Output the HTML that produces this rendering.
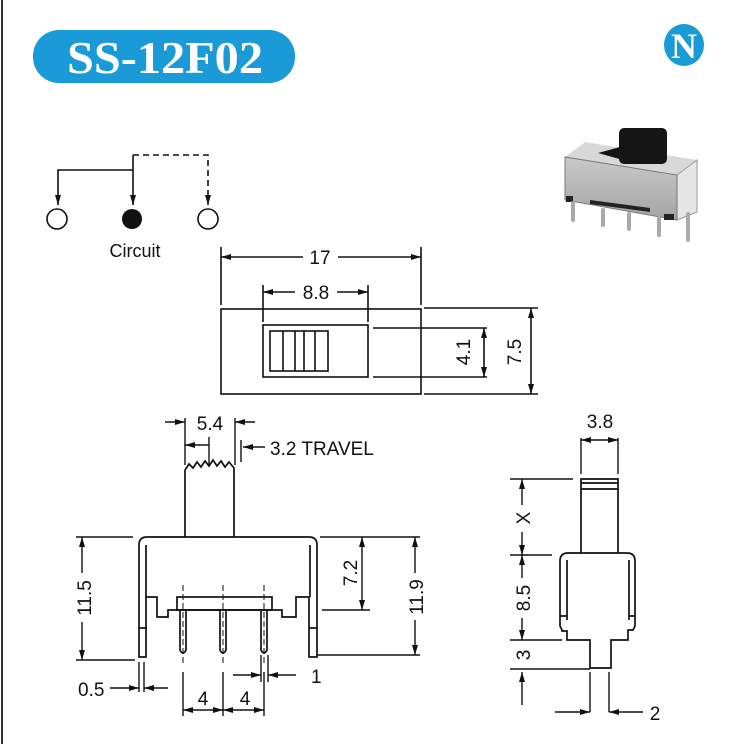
<!DOCTYPE html>
<html><head><meta charset="utf-8"><style>
html,body{margin:0;padding:0;background:#fff;}
svg{display:block;}
text{font-family:"Liberation Sans",Arial,sans-serif;fill:#111;}
</style></head><body>
<svg width="735" height="744" viewBox="0 0 735 744" xmlns="http://www.w3.org/2000/svg">
<defs>
<marker id="a" viewBox="0 0 10 6" refX="10" refY="3" markerWidth="10" markerHeight="6" orient="auto-start-reverse" markerUnits="userSpaceOnUse"><path d="M0,0 L10,3 L0,6 z" fill="#111"/></marker>
<linearGradient id="g1" x1="0" y1="0" x2="0" y2="1"><stop offset="0" stop-color="#c9c9c9"/><stop offset="1" stop-color="#a5a5a5"/></linearGradient>
</defs>
<line x1="2" y1="0" x2="2" y2="744" stroke="#333" stroke-width="2"/>
<rect x="33" y="30" width="262" height="53" rx="26" fill="#1a9ad6"/>
<text x="165" y="73" text-anchor="middle" textLength="196" lengthAdjust="spacingAndGlyphs" style="font-family:'Liberation Serif',serif;font-weight:bold;font-size:46px;fill:#fff">SS-12F02</text>
<ellipse cx="684" cy="45" rx="20" ry="21" fill="#1a9ad6"/>
<text x="684" y="58" text-anchor="middle" style="font-family:'Liberation Serif',serif;font-weight:bold;font-size:36px;fill:#fff">N</text>
<g stroke="#111" stroke-width="1.6" fill="none">
<path d="M133,155 H208 V205" stroke-dasharray="6,4" marker-end="url(#a)"/>
<path d="M58,205 V170 H133" marker-start="url(#a)"/>
<path d="M133,155 V205" marker-end="url(#a)"/>
<circle cx="57" cy="219" r="10"/><circle cx="208" cy="219" r="10"/>
</g>
<circle cx="132" cy="219" r="10" fill="#111"/>
<text x="135" y="257" text-anchor="middle" font-size="18">Circuit</text>
<!-- photo -->
<polygon points="565,157 585,142 697,160 677,175" fill="#d8d8d8"/>
<polygon points="677,175 697,160 697,212 677,220" fill="#e6e6e6" stroke="#999"/>
<polygon points="565,157 677,175 677,220 565,200" fill="url(#g1)" stroke="#777"/>
<polygon points="598,153 620,147 630,162" fill="#151515"/>
<rect x="619" y="128" width="48" height="36" rx="5" fill="#151515"/>
<polygon points="590,200 650,208 650,212 590,204" fill="#222"/>
<rect x="566" y="196" width="7" height="6" fill="#222"/><rect x="664" y="214" width="10" height="6" fill="#222"/>
<g stroke="#aaa" stroke-width="4" stroke-linecap="round"><line x1="573" y1="203" x2="573" y2="220"/><line x1="603" y1="210" x2="603" y2="225"/><line x1="629" y1="214" x2="629" y2="229"/><line x1="659" y1="218" x2="659" y2="235"/><line x1="688" y1="214" x2="688" y2="240"/></g>
<!-- top view -->
<g stroke="#111" stroke-width="1.6" fill="none">
<rect x="221" y="309" width="200" height="85"/>
<rect x="263" y="325" width="105" height="52"/>
<rect x="270" y="331" width="58" height="40"/>
<path d="M283,331V371 M295,331V371 M304,331V371 M315,331V371"/>
<path d="M221,247V305 M421,247V305 M263,285V322 M368,285V322"/>
<path d="M221,257H303" marker-start="url(#a)"/><path d="M338,257H421" marker-end="url(#a)"/>
<path d="M263,292H295" marker-start="url(#a)"/><path d="M337,292H368" marker-end="url(#a)"/>
<path d="M373,328H487 M373,377H487 M424,308H538 M424,394H538"/>
<path d="M484,328V377" marker-start="url(#a)" marker-end="url(#a)"/>
<path d="M531,308V394" marker-start="url(#a)" marker-end="url(#a)"/>
</g>
<g font-size="19">
<text x="320" y="264" text-anchor="middle">17</text>
<text x="316" y="299" text-anchor="middle">8.8</text>
<text transform="translate(470,352) rotate(-90)" text-anchor="middle">4.1</text>
<text transform="translate(521,352) rotate(-90)" text-anchor="middle">7.5</text>
</g>
<!-- front view -->
<g stroke="#111" stroke-width="1.7" fill="none">
<path d="M139,657 V545 Q139,537 147,537 H309 Q317,537 317,545 V657 H309 V597 H296 V617 H282 V610 H168 V617 H157 V597 H146 V657 Z"/>
<path d="M146,597 V545 M310,597 V545 M139,628H147 M309,628H317"/>
<rect x="177" y="597" width="95" height="13"/>
<path d="M180,610 V650 Q183,656 186,650 V610"/><path d="M220,610 V650 Q223,656 226,650 V610"/><path d="M261,610 V650 Q264,656 267,650 V610"/>
<path d="M185,537 V470 L189,464 L193,468 L197,462 L201,467 L205,461 L209,466 L213,460 L217,466 L221,461 L225,467 L229,462 L234,468 V537"/>
</g>
<g stroke="#111" stroke-width="1" stroke-dasharray="6,3"><path d="M183,585V665 M223,585V665 M264,585V665"/></g>
<g stroke="#111" stroke-width="1.4" fill="none">
<path d="M185,418V465 M235,418V465 M209,437V465 M241,440V462"/>
<path d="M165,422H185" marker-end="url(#a)"/><path d="M255,422H235" marker-end="url(#a)"/>
<path d="M185,445H209" marker-start="url(#a)"/>
<path d="M265,447H243" marker-end="url(#a)"/>
<path d="M76,537H133 M76,660H135"/>
<path d="M82,537V573" marker-start="url(#a)"/><path d="M82,622V660" marker-end="url(#a)"/>
<path d="M322,610H370 M320,537H420 M317,655H420"/>
<path d="M362,537V610" marker-start="url(#a)" marker-end="url(#a)"/>
<path d="M415,537V573" marker-start="url(#a)"/><path d="M415,620V655" marker-end="url(#a)"/>
<path d="M139,662V692 M144,662V692"/>
<path d="M110,688H139" marker-end="url(#a)"/><path d="M168,688H144" marker-end="url(#a)"/>
<path d="M183,672V716 M223,672V716 M264,672V716 M261,655V682 M268,655V682"/>
<path d="M183,710H223" marker-start="url(#a)" marker-end="url(#a)"/><path d="M223,710H264" marker-start="url(#a)" marker-end="url(#a)"/>
<path d="M233,675H261" marker-end="url(#a)"/><path d="M296,675H268" marker-end="url(#a)"/>
</g>
<g font-size="19">
<text x="210" y="430" text-anchor="middle">5.4</text>
<text x="270" y="455">3.2 TRAVEL</text>
<text transform="translate(91,598) rotate(-90)" text-anchor="middle">11.5</text>
<text transform="translate(357,573) rotate(-90)" text-anchor="middle">7.2</text>
<text transform="translate(423,597) rotate(-90)" text-anchor="middle">11.9</text>
<text x="78" y="696">0.5</text>
<text x="203" y="705" text-anchor="middle">4</text>
<text x="245" y="705" text-anchor="middle">4</text>
<text x="311" y="683">1</text>
</g>
<!-- side view -->
<g stroke="#111" stroke-width="1.7" fill="none">
<path d="M581,553V479H618V553 M581,483H618 M581,489H618"/>
<path d="M567,640 V631 H562 V630 L560,626 V561 Q560,553 568,553 H627 Q635,553 635,561 V626 L633,630 H628 V640 H611 V668 H590 V640 Z"/>
<path d="M567,560V620 M629,560V620 M560,616H567 M629,616H635"/>
</g>
<g stroke="#111" stroke-width="1.4" fill="none">
<path d="M581,438V474 M618,438V474"/>
<path d="M581,440H618" marker-start="url(#a)" marker-end="url(#a)"/>
<path d="M510,479H573 M510,555H552 M510,640H562 M510,669H590"/>
<path d="M522,479V505" marker-start="url(#a)"/><path d="M522,532V555" marker-end="url(#a)"/>
<path d="M522,555V578" marker-start="url(#a)"/><path d="M522,618V640" marker-end="url(#a)"/>
<path d="M522,705V672" marker-end="url(#a)"/>
<path d="M590,672V712 M609,672V712"/>
<path d="M555,712H590" marker-end="url(#a)"/><path d="M643,712H609" marker-end="url(#a)"/>
</g>
<g font-size="19">
<text x="600" y="428" text-anchor="middle">3.8</text>
<text transform="translate(530,518) rotate(-90)" text-anchor="middle">X</text>
<text transform="translate(530,598) rotate(-90)" text-anchor="middle">8.5</text>
<text transform="translate(530,655) rotate(-90)" text-anchor="middle">3</text>
<text x="655" y="720" text-anchor="middle">2</text>
</g>
</svg>
</body></html>
